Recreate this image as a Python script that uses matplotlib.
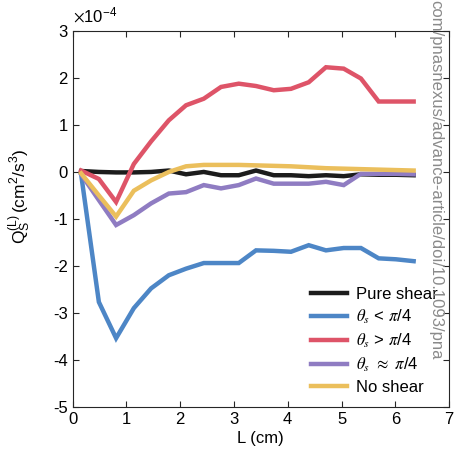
import numpy as np
import matplotlib
matplotlib.use("Agg")
import matplotlib.pyplot as plt

plt.rcParams['font.family'] = ['Liberation Sans', 'DejaVu Sans']
plt.rcParams['mathtext.fontset'] = 'stix'
plt.rcParams['axes.unicode_minus'] = False

# L (cm) bin centres
L = [0.16, 0.49, 0.81, 1.14, 1.46, 1.79, 2.11, 2.44, 2.76, 3.09,
     3.41, 3.74, 4.06, 4.39, 4.71, 5.04, 5.36, 5.69, 6.01, 6.34]

# Q_S^(L) in units of 1e-4 cm^2/s^3
pure_shear = [0.02, 0.0, -0.01, -0.01, 0.0, 0.03, -0.05, 0.0, -0.07, -0.07,
              0.03, -0.07, -0.07, -0.09, -0.07, -0.09, -0.05, -0.06, -0.06, -0.07]
theta_lt = [-0.05, -2.77, -3.54, -2.9, -2.48, -2.2, -2.06, -1.94, -1.94, -1.94,
            -1.67, -1.68, -1.70, -1.56, -1.67, -1.62, -1.62, -1.84, -1.86, -1.9]
theta_gt = [0.03, -0.15, -0.64, 0.17, 0.65, 1.1, 1.42, 1.56, 1.81, 1.88,
            1.83, 1.74, 1.77, 1.91, 2.23, 2.2, 1.99, 1.5, 1.5, 1.5]
theta_eq = [-0.05, -0.6, -1.13, -0.92, -0.67, -0.46, -0.43, -0.28, -0.35, -0.28,
            -0.14, -0.25, -0.25, -0.25, -0.21, -0.28, -0.04, -0.04, -0.04, -0.05]
no_shear = [-0.03, -0.5, -0.95, -0.4, -0.18, 0.0, 0.12, 0.15, 0.15, 0.15,
            0.14, 0.13, 0.12, 0.1, 0.08, 0.07, 0.06, 0.05, 0.04, 0.03]

series = [
    (pure_shear, '#1c1c1c', 'Pure shear'),
    (theta_lt, '#4d86c6', r'$\theta_s$ < $\pi$/4'),
    (theta_gt, '#de5468', r'$\theta_s$ > $\pi$/4'),
    (theta_eq, '#8f7cc2', r'$\theta_s$ $\approx$ $\pi$/4'),
    (no_shear, '#ebbf5c', 'No shear'),
]

fig = plt.figure(figsize=(4.56, 4.57), dpi=100)
ax = fig.add_axes([0.159, 0.110, 0.826, 0.822])

for vals, col, lab in series:
    ax.plot(L, vals, color=col, lw=3.2, label=lab, solid_joinstyle='miter')

ax.set_xlim(0, 7)
ax.set_ylim(-5, 3)
ax.set_xticks(range(0, 8))
ax.set_yticks(range(-5, 4))
ax.tick_params(direction='in', length=4, width=0.8, labelsize=12,
               top=True, right=True, colors='#262626', labelcolor='black')
for s in ax.spines.values():
    s.set_linewidth(0.8)
    s.set_color('#262626')

ax.set_xlabel('L (cm)', fontsize=12, labelpad=3)
ax.set_ylabel(r'$\mathregular{Q_S^{(L)}\,(cm^2/s^3)}$', fontsize=12.5)
ax.yaxis.set_label_coords(-0.105, 0.56)
ax.text(0.0, 1.015, r'$\times\mathregular{10^{-4}}$', transform=ax.transAxes,
        fontsize=12, ha='left', va='bottom')

leg = ax.legend(loc='lower right', frameon=False, fontsize=12, handlelength=2.2,
                handletextpad=0.5, labelspacing=0.35, borderaxespad=0.3,
                bbox_to_anchor=(1.0, 0.0))

fig.text(0.955, 1.0, 'com/pnasnexus/advance-article/doi/10.1093/pna',
         rotation=-90, fontsize=12, color='#8a8a8a', ha='center', va='top')

fig.savefig('out.png', dpi=100)
